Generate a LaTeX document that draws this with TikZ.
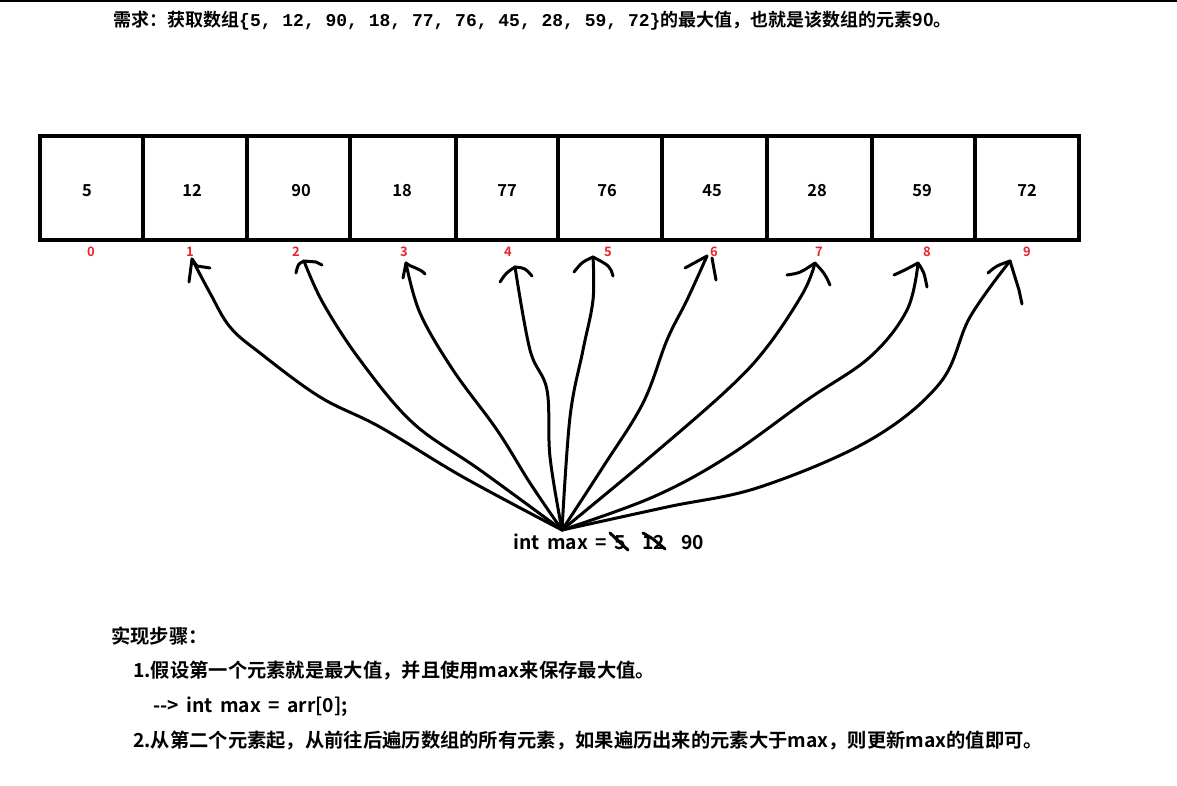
\documentclass[tikz,border=0pt]{standalone}
\usepackage{fontspec}
\setmainfont{Noto Sans CJK SC}[BoldFont={Noto Sans CJK SC Bold},WordSpace=1.7]
\newfontfamily\monof{Liberation Mono}
\definecolor{idxred}{RGB}{235,35,45}
\tikzset{
  cell/.style={draw, line width=3.5pt, minimum height=104pt, inner sep=0pt},
  num/.style={anchor=base, inner sep=0pt, font=\fontsize{16.5}{18}\selectfont\bfseries},
  idx/.style={anchor=base, text=idxred, font=\fontsize{13}{14}\selectfont\bfseries, inner sep=0pt},
  hand/.style={line width=3pt, line cap=round, line join=round},
  txt/.style={anchor=base west, inner sep=0pt, font=\fontsize{19.3}{22}\selectfont\bfseries}
}
\begin{document}
\begin{tikzpicture}[x=1pt,y=-1pt]
\useasboundingbox (0,0) rectangle (1177,786);
\fill[white] (0,0) rectangle (1177,786);
\draw[line width=2pt] (0,1) -- (1177,1);
% title
\node[txt, font=\fontsize{18}{21}\selectfont\bfseries] (title) at (113,27) {需求：获取数组{\monof\bfseries\{5, 12, 90, 18, 77, 76, 45, 28, 59, 72\}}的最大值，也就是该数组的元素90。};
% cells
\foreach \i/\a/\b/\v/\nx in {0/40/143/5/87,1/143/247/12/192,2/247/350/90/301,3/350/456/18/402,4/456/558/77/507,5/558/662/76/607,6/662/767/45/712,7/767/872/28/817,8/872/975/59/922,9/975/1079/72/1027}{
  \node[cell, minimum width={\b-\a}] (c\i) at ({(\a+\b)/2},188) {};
  \node[num] (n\i) at (\nx,197) {\v};
}
% index labels
\foreach \i/\x in {0/91,1/190,2/296,3/404,4/508,5/608,6/714,7/819,8/927,9/1027}{
  \node[idx] (i\i) at (\x,256) {\i};
}
% max line
\node[txt] (maxtxt) at (513,549) {int max = 5};
\node[txt] (v12) at (642,549) {12};
\node[txt] (v90) at (681,549) {90};
\coordinate (hub) at (562,530);
% tips
\coordinate (t1) at (192,259);
\coordinate (t2) at (304,261);
\coordinate (t3) at (406,263);
\coordinate (t4) at (515,267);
\coordinate (t5) at (593,257);
\coordinate (t6) at (707,256);
\coordinate (t7) at (815,263);
\coordinate (t8) at (918,263);
\coordinate (t9) at (1010,261);
% curves
\draw[hand] plot[smooth, tension=0.6] coordinates {(hub) (463,477) (380,427) (320,397) (260,353) (230,327) (210,293) (t1)};
\draw[hand] plot[smooth, tension=0.6] coordinates {(hub) (480,470) (413,423) (360,360) (323,303) (t2)};
\draw[hand] plot[smooth, tension=0.6] coordinates {(hub) (530,483) (497,430) (453,370) (420,313) (t3)};
\draw[hand] plot[smooth, tension=0.6] coordinates {(hub) (550,457) (547,390) (530,350) (t4)};
\draw[hand] plot[smooth, tension=0.6] coordinates {(hub) (570,417) (583,350) (593,300) (t5)};
\draw[hand] plot[smooth, tension=0.6] coordinates {(hub) (603,467) (643,403) (667,340) (687,300) (t6)};
\draw[hand] plot[smooth, tension=0.6] coordinates {(hub) (643,463) (727,390) (767,347) (803,293) (t7)};
\draw[hand] plot[smooth, tension=0.6] coordinates {(hub) (653,497) (727,457) (807,400) (870,357) (907,310) (t8)};
\draw[hand] plot[smooth, tension=0.6] coordinates {(hub) (667,507) (760,487) (870,440) (940,383) (970,317) (t9)};
% arrow heads
\draw[hand] (189,282) -- (t1) -- (197,266) -- (210,268);
\draw[hand] (296,273) .. controls (298,264) .. (t2) -- (316,262) -- (322,265);
\draw[hand] (403,278) -- (t3) .. controls (412,268) and (420,268) .. (425,274);
\draw[hand] (500,282) .. controls (506,273) .. (t4) .. controls (525,268) .. (532,276);
\draw[hand] (574,272) .. controls (582,262) .. (t5) .. controls (610,266) .. (613,276);
\draw[hand] (685,268) .. controls (696,262) .. (t6);
\draw[hand] (712,258) -- (716,280);
\draw[hand] (787,275) .. controls (800,273) .. (t7) .. controls (825,274) .. (830,285);
\draw[hand] (894,275) .. controls (905,270) .. (t8) .. controls (924,272) .. (927,287);
\draw[hand] (988,273) .. controls (996,266) .. (t9) -- (1019,290) -- (1022,304);
% strike-outs
\draw[hand] (610,533) -- (628,550);
\draw[hand] (643,533) -- (653,539) -- (665,549);
% steps
\node[txt] (s0) at (111,643) {实现步骤：};
\node[txt] (s1) at (133,677) {1.假设第一个元素就是最大值，并且使用max来保存最大值。};
\node[txt] (s2) at (153,712) {{-}{-}> int max = arr[0];};
\node[txt] (s3) at (133,747) {2.从第二个元素起，从前往后遍历数组的所有元素，如果遍历出来的元素大于max，则更新max的值即可。};
\end{tikzpicture}
\end{document}
